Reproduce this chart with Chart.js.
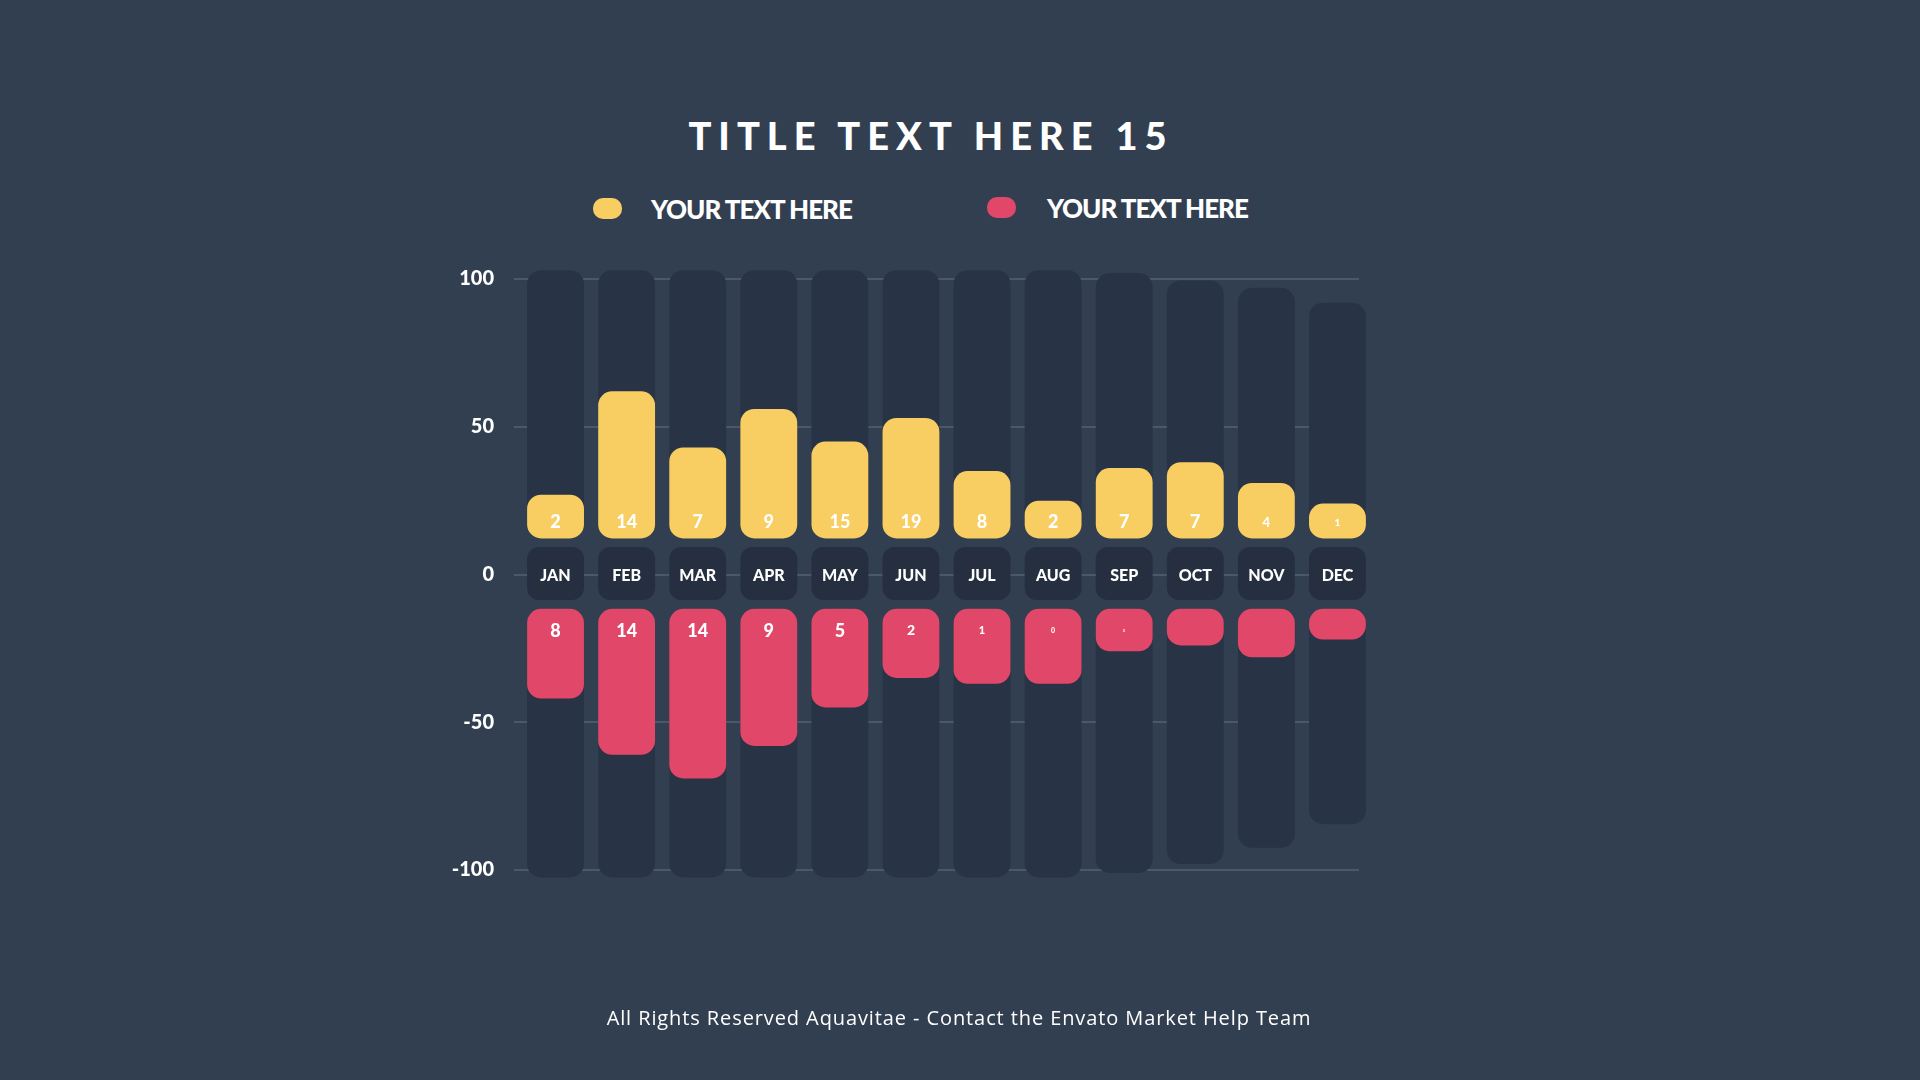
<!DOCTYPE html>
<html>
<head>
<meta charset="utf-8">
<script src="https://cdn.jsdelivr.net/npm/chart.js@4.4.1/dist/chart.umd.min.js"></script>
<style>
  html, body { margin: 0; padding: 0; }
  body {
    width: 1920px; height: 1080px; overflow: hidden; position: relative;
    background: #323f51;
    font-family: Lato, "Noto Sans", sans-serif;
    color: #fff;
  }
  #chart { position: absolute; left: 0; top: 0; }
  .title {
    position: absolute; left: 0; width: 1862px; top: 116px;
    text-align: center; font-size: 38px; line-height: 38px; font-weight: 900;
    letter-spacing: 7px;
  }
  .legend { position: absolute; top: 0; left: 0; }
  .legend .dot { position: absolute; width: 29px; height: 21px; border-radius: 10px; }
  .legend .txt {
    position: absolute; font-size: 26px; line-height: 26px; font-weight: 900;
    letter-spacing: -1px; white-space: nowrap;
  }
  .footer {
    position: absolute; left: 0; width: 1918px; top: 1008px; text-align: center;
    font-family: "Open Sans", Lato, sans-serif; font-size: 20px; line-height: 20px;
    letter-spacing: 0.9px;
  }
</style>
</head>
<body>
<div class="title">TITLE TEXT HERE 15</div>
<div class="legend">
  <div class="dot" style="left:593px; top:198px; background:#f8ce62"></div>
  <div class="txt" style="left:651px; top:196px">YOUR TEXT HERE</div>
  <div class="dot" style="left:987px; top:197px; background:#e14768"></div>
  <div class="txt" style="left:1047px; top:195px">YOUR TEXT HERE</div>
</div>
<canvas id="chart" width="1920" height="1080"></canvas>
<div class="footer">All Rights Reserved Aquavitae - Contact the Envato Market Help Team</div>

<script>
// categories
const months = ['JAN', 'FEB', 'MAR', 'APR', 'MAY', 'JUN', 'JUL', 'AUG', 'SEP', 'OCT', 'NOV', 'DEC'];

// bar ends
const yellowValues = [27, 62, 43, 56, 45, 53, 35, 25, 36, 38, 31, 24];
const redValues = [-42, -61, -69, -58, -45, -35, -37, -37, -26, -24, -28, -22];

// numbers printed inside the bars
const yellowLabels = ['2', '14', '7', '9', '15', '19', '8', '2', '7', '7', '4', '1'];
const redLabels = ['8', '14', '14', '9', '5', '2', '1', '0', '0', '', '', ''];

// dark tracks behind the bars
const trackTop = [103, 103, 103, 103, 103, 103, 103, 103, 102, 99.5, 97, 92];
const trackBottom = [-102.5, -102.5, -102.5, -102.5, -102.5, -102.5, -102.5, -102.5, -101, -98, -92.5, -84.5];
const monthBox = [-8.6, 9.3];

// y tick labels
const yTicks = [-100, -50, 0, 50, 100];

const yellowBase = 12.2;
const redBase = -11.6;

// label font sizes (some numbers are still shrinking in)
const yellowLabelSize = [18, 18, 18, 18, 18, 18, 18, 18, 18, 18, 13, 10];
const redLabelSize = [18, 18, 18, 18, 18, 14, 11, 7, 3, 0, 0, 0];

const barOpts = { grouped: false, clip: false, borderSkipped: false, barPercentage: 0.8, categoryPercentage: 1 };

const barText = {
  id: 'barText',
  beforeDatasetsDraw(chart) {
    const { ctx, chartArea, scales } = chart;
    ctx.save();
    ctx.strokeStyle = '#4a5869';
    ctx.lineWidth = 2;
    yTicks.forEach(v => {
      const y = Math.round(scales.y.getPixelForValue(v));
      ctx.beginPath();
      ctx.moveTo(chartArea.left - 6, y);
      ctx.lineTo(chartArea.right - 14, y);
      ctx.stroke();
    });
    ctx.restore();
  },
  afterDatasetsDraw(chart) {
    const { ctx, scales } = chart;
    ctx.save();
    ctx.fillStyle = '#ffffff';
    ctx.textAlign = 'center';
    ctx.textBaseline = 'middle';
    const y0 = scales.y.getPixelForValue(0);
    months.forEach((m, i) => {
      const x = scales.x.getPixelForValue(i);
      ctx.font = '900 16px Lato';
      ctx.fillText(m, x, y0 + 1);
      if (yellowLabels[i] && yellowLabelSize[i]) {
        ctx.font = '900 ' + yellowLabelSize[i] + 'px Lato';
        ctx.fillText(yellowLabels[i], x, scales.y.getPixelForValue(yellowBase) - 16);
      }
      if (redLabels[i] && redLabelSize[i]) {
        ctx.font = '900 ' + redLabelSize[i] + 'px Lato';
        ctx.fillText(redLabels[i], x, scales.y.getPixelForValue(redBase) + 22);
      }
    });
    ctx.restore();
  }
};

new Chart(document.getElementById('chart'), {
  type: 'bar',
  data: {
    labels: months,
    datasets: [
      Object.assign({ label: 'Yellow', data: yellowValues, base: yellowBase, backgroundColor: '#f8ce62', borderRadius: 14 }, barOpts),
      Object.assign({ label: 'Red', data: redValues, base: redBase, backgroundColor: '#e14768', borderRadius: 14 }, barOpts),
      Object.assign({ label: 'Track top', data: trackTop, base: yellowBase, backgroundColor: '#283445', borderRadius: 14 }, barOpts),
      Object.assign({ label: 'Track bottom', data: trackBottom, base: redBase, backgroundColor: '#283445', borderRadius: 14 }, barOpts),
      Object.assign({ label: 'Month', data: months.map(() => monthBox), backgroundColor: '#262f3f', borderRadius: 12 }, barOpts)
    ]
  },
  options: {
    responsive: false,
    animation: false,
    events: [],
    layout: { padding: { left: 420, right: 547, top: 279, bottom: 210 } },
    plugins: { legend: { display: false }, tooltip: { enabled: false } },
    scales: {
      x: { display: false },
      y: {
        min: -100, max: 100,
        afterFit: s => { s.width = 100; },
        afterBuildTicks: s => { s.ticks = yTicks.map(v => ({ value: v })); },
        grid: { display: false, drawTicks: false },
        border: { display: false },
        ticks: { color: '#ffffff', padding: 26, font: { family: 'Lato', size: 20, weight: '900' } }
      }
    }
  },
  plugins: [barText]
});
</script>
</body>
</html>
